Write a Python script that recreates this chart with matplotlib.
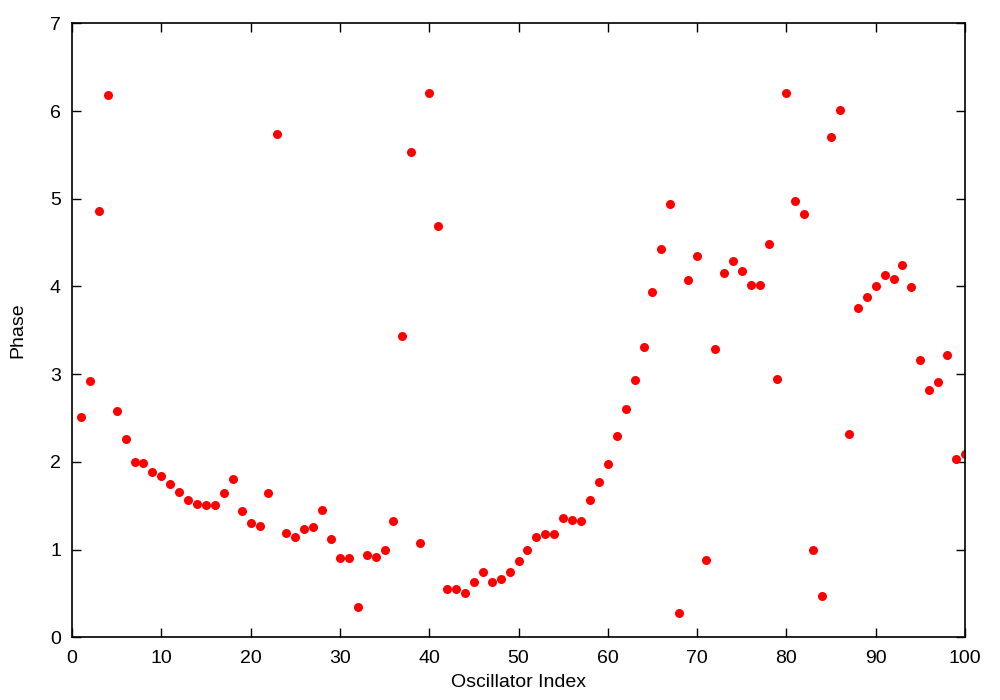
import numpy as np
import matplotlib
matplotlib.use("Agg")
import matplotlib.pyplot as plt

plt.rcParams['font.family'] = ['Liberation Sans', 'DejaVu Sans']

# oscillator index and phase
index = list(range(1, 101))
phase = [
    2.51, 2.92, 4.86, 6.18, 2.58, 2.26, 2.00, 1.99, 1.88, 1.84,
    1.75, 1.66, 1.56, 1.52, 1.51, 1.51, 1.64, 1.80, 1.44, 1.30,
    1.27, 1.65, 5.74, 1.19, 1.14, 1.23, 1.26, 1.45, 1.12, 0.90,
    0.90, 0.35, 0.94, 0.91, 0.99, 1.33, 3.44, 5.53, 1.08, 6.21,
    4.69, 0.55, 0.55, 0.51, 0.63, 0.75, 0.63, 0.67, 0.75, 0.87,
    1.00, 1.14, 1.18, 1.18, 1.36, 1.34, 1.33, 1.56, 1.77, 1.98,
    2.30, 2.60, 2.93, 3.31, 3.94, 4.43, 4.94, 0.28, 4.07, 4.35,
    0.88, 3.29, 4.15, 4.29, 4.18, 4.02, 4.02, 4.48, 2.95, 6.21,
    4.97, 4.83, 0.99, 0.47, 5.70, 6.01, 2.32, 3.76, 3.88, 4.00,
    4.13, 4.09, 4.25, 3.99, 3.16, 2.82, 2.91, 3.22, 2.03, 2.09,
]
xticks = [0, 10, 20, 30, 40, 50, 60, 70, 80, 90, 100]
yticks = [0, 1, 2, 3, 4, 5, 6, 7]

fig = plt.figure(figsize=(10, 7), dpi=100)
ax = fig.add_axes([0.072, 0.0896, 0.893, 0.877])

ax.plot(index, phase, 'o', color='#ff0000', markersize=6.5, markeredgewidth=0)

ax.set_xlim(0, 100)
ax.set_ylim(0, 7)
ax.set_xticks(xticks)
ax.set_yticks(yticks)
ax.tick_params(direction='in', top=True, right=True, length=6.5, width=1, labelsize=14)
ax.tick_params(axis='x', pad=9)
ax.tick_params(axis='y', pad=8)
for s in ax.spines.values():
    s.set_linewidth(1.2)

ax.set_xlabel('Oscillator Index', fontsize=14, labelpad=5)
ax.set_ylabel('Phase', fontsize=14, labelpad=17)

fig.savefig('out.png', dpi=100)
